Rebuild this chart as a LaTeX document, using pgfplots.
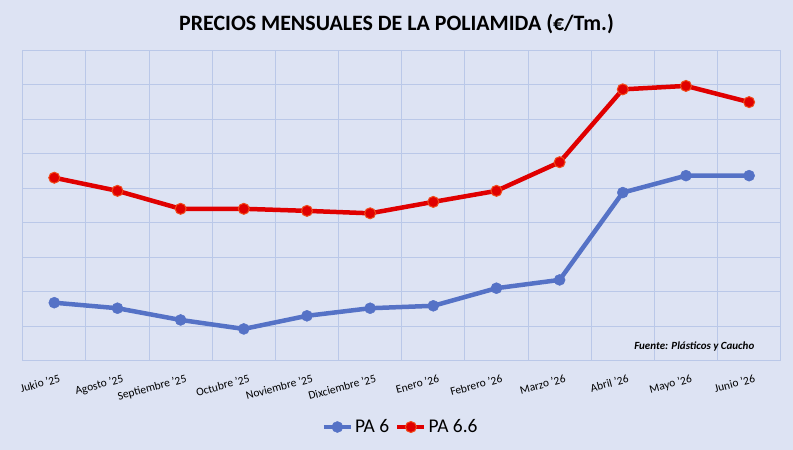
\documentclass[border=0pt]{standalone}
\usepackage{fontspec}
\setmainfont{Carlito}
\usepackage{pgfplots}
\pgfplotsset{compat=1.18}
\definecolor{bg}{HTML}{DDE3F3}
\definecolor{gridc}{HTML}{BAC8E8}
\definecolor{pablue}{HTML}{5572C6}
\definecolor{pared}{HTML}{E00000}
\definecolor{paredb}{HTML}{F04A1A}
\begin{document}
\begin{tikzpicture}
\fill[bg] (0,0) rectangle (793bp,450bp);
\begin{axis}[
  at={(22.7bp,89.3bp)}, anchor=south west,
  scale only axis, width=758bp, height=310.7bp,
  xmin=-0.5, xmax=11.5, ymin=0, ymax=9,
  xtick={0,...,11},
  xticklabels={Jukio '25,Agosto '25,Septiembre '25,Octubre '25,Noviembre '25,Dixciembre '25,Enero '26,Febrero '26,Marzo '26,Abril '26,Mayo '26,Junio '26},
  x tick label style={rotate=15, anchor=north east, font=\fontsize{11.5}{13}\selectfont, inner sep=0pt, yshift=-14bp, xshift=1bp},
  minor xtick={0.5,1.5,...,10.5},
  xminorgrids,
  ytick={0,...,9},
  yticklabels={},
  ymajorgrids,
  major tick length=0pt, minor tick length=0pt,
  grid style={gridc, line width=0.8bp},
  minor grid style={gridc, line width=0.8bp},
  axis line style={gridc, line width=0.8bp},
  axis background/.style={fill=bg},
  legend image code/.code={\draw[mark repeat=2,mark phase=2] plot coordinates {(0bp,0bp) (13.5bp,0bp) (27bp,0bp)};},
  legend style={at={(0.4985,-0.2134)}, anchor=center, draw=none, fill=none,
    legend columns=2, font=\fontsize{19.5}{22}\selectfont,
    /tikz/every even column/.append style={column sep=4bp},
    /tikz/every odd column/.append style={column sep=0bp}},
  legend cell align=left,
  clip=false,
]
\addplot[pablue, line width=4.5bp, mark=*, mark size=5.5bp, mark options={fill=pablue, draw=pablue, line width=0.5bp}]
  coordinates {(0,1.68) (1,1.52) (2,1.18) (3,0.92) (4,1.30) (5,1.52) (6,1.59) (7,2.10) (8,2.34) (9,4.87) (10,5.36) (11,5.36)};
\addlegendentry{PA 6}
\addplot[pared, line width=4.5bp, mark=*, mark size=5.5bp, mark options={fill=pared, draw=paredb, line width=1bp}]
  coordinates {(0,5.30) (1,4.92) (2,4.40) (3,4.40) (4,4.34) (5,4.27) (6,4.60) (7,4.92) (8,5.75) (9,7.86) (10,7.96) (11,7.49)};
\addlegendentry{PA 6.6}
\node[font=\fontsize{11}{13}\selectfont\bfseries\itshape, anchor=center] at (rel axis cs:0.886,0.045) {Fuente: Plásticos y Caucho};
\end{axis}
\node[font=\fontsize{22}{26}\selectfont\bfseries, anchor=center] at (396.5bp,426bp) {PRECIOS MENSUALES DE LA POLIAMIDA (€/Tm.)};
\end{tikzpicture}
\end{document}
